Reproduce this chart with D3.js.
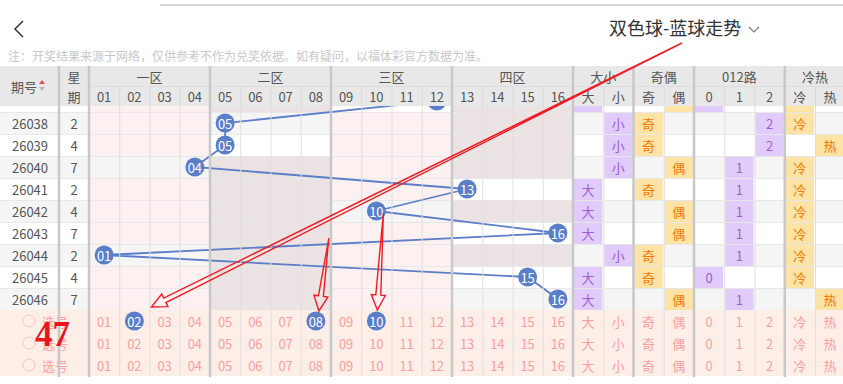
<!DOCTYPE html>
<html>
<head>
<meta charset="utf-8">
<script src="https://cdn.jsdelivr.net/npm/d3@7"></script>
<style>
  body { margin: 0; background: #fff; overflow: hidden; }
  text { font-family: "Noto Sans CJK SC", "Noto Sans", sans-serif; }
</style>
</head>
<body>
<div id="chart"></div>
<script>
// Draw data (first issue only peeks out under the header)
var issues = ["26037", "26038", "26039", "26040", "26041", "26042", "26043", "26044", "26045", "26046"];
var weekdays = [7, 2, 4, 7, 2, 4, 7, 2, 4, 7];
var blueBalls = [12, 5, 5, 4, 13, 10, 16, 1, 15, 16];
var hotCold = ["冷", "冷", "热", "冷", "冷", "冷", "冷", "冷", "冷", "热"];

// Column labels
var ballLabels = ["01", "02", "03", "04", "05", "06", "07", "08", "09", "10", "11", "12", "13", "14", "15", "16"];
var zoneLabels = ["一区", "二区", "三区", "四区"];
var groupLabels = ["大小", "奇偶", "012路", "冷热"];
var groupCells = [["大", "小"], ["奇", "偶"], ["0", "1", "2"], ["冷", "热"]];

// Picker rows at the bottom
var pickRows = ["选号", "选号", "选号"];
var picked = [["02", "08", "10"], [], []];

var title = "双色球-蓝球走势";
var note = "注：开奖结果来源于网络，仅供参考不作为兑奖依据。如有疑问，以福体彩官方数据为准。";
var markNumber = "47";

var width = 843, height = 384;

var svg = d3.select("#chart").append("svg")
    .attr("width", width)
    .attr("height", height);

// Column keys: 16 balls + the stat groups
var groupKeys = [];
groupCells.forEach(function(cells, g) {
  cells.forEach(function(c) { groupKeys.push("g" + g + "-" + c); });
});
var colKeys = ballLabels.concat(groupKeys);

var x = d3.scaleBand().domain(colKeys).range([89, 89 + colKeys.length * 30.25]);
var y = d3.scaleBand().domain(issues).range([90, 310]);
var yPick = d3.scaleBand().domain(d3.range(pickRows.length)).range([310, 376]);
var bw = x.bandwidth();

var zoneColors = ["#fdf0f0", "#ebe3e3"];
var purple = { bg: "#e0cbfa", fg: "#9c60d4" };
var orange = { bg: "#fde3a6", fg: "#f27a06" };
var groupStyle = [purple, orange, purple, orange];

function cx(label) { return x(label) + bw / 2; }
function cy(issue) { return y(issue) + y.bandwidth() / 2; }

// values shown in the stat columns for each draw
function groupValue(g, i) {
  var b = blueBalls[i];
  if (g === 0) return b >= 9 ? "大" : "小";
  if (g === 1) return b % 2 ? "奇" : "偶";
  if (g === 2) return String(b % 3);
  return hotCold[i];
}

// ---------- data rows (clipped under header) ----------
svg.append("clipPath").attr("id", "body-clip")
  .append("rect").attr("x", 0).attr("y", 106).attr("width", width).attr("height", 204);

var body = svg.append("g").attr("clip-path", "url(#body-clip)");

body.selectAll("rect.row")
  .data(issues)
  .enter().append("rect")
  .attr("class", "row")
  .attr("x", 0)
  .attr("y", d => y(d))
  .attr("width", width)
  .attr("height", y.bandwidth())
  .attr("fill", (d, i) => i % 2 ? "#f5f5f5" : "#fff");

// zones without a hit get shaded
issues.forEach(function(issue, i) {
  var hitZone = Math.floor((blueBalls[i] - 1) / 4);
  zoneLabels.forEach(function(z, k) {
    if (k === hitZone) return;
    body.append("rect")
      .attr("x", x(ballLabels[k * 4]))
      .attr("y", y(issue))
      .attr("width", bw * 4)
      .attr("height", y.bandwidth())
      .attr("fill", zoneColors[k % 2]);
  });
});

// stat cells (text only for rows fully below the header)
issues.forEach(function(issue, i) {
  groupCells.forEach(function(cells, g) {
    var v = groupValue(g, i);
    var key = "g" + g + "-" + v;
    body.append("rect")
      .attr("x", x(key) + 1)
      .attr("y", y(issue))
      .attr("width", bw - 2)
      .attr("height", y.bandwidth())
      .attr("fill", groupStyle[g].bg);
    if (i === 0) return;
    body.append("text")
      .attr("x", cx(key))
      .attr("y", cy(issue))
      .attr("text-anchor", "middle")
      .attr("dominant-baseline", "central")
      .attr("font-size", 13)
      .attr("fill", groupStyle[g].fg)
      .text(v);
  });
});

// grid lines
body.selectAll("line.h")
  .data(issues)
  .enter().append("line")
  .attr("x1", 0).attr("x2", width)
  .attr("y1", d => y(d) + 0.5).attr("y2", d => y(d) + 0.5)
  .attr("stroke", "#e8e8e8");

// issue / weekday text
var shown = issues.slice(1);
body.selectAll("text.issue")
  .data(shown)
  .enter().append("text")
  .attr("x", 30)
  .attr("y", d => cy(d))
  .attr("text-anchor", "middle")
  .attr("dominant-baseline", "central")
  .attr("font-size", 13)
  .attr("fill", "#555")
  .text(d => d);

body.selectAll("text.week")
  .data(weekdays.slice(1))
  .enter().append("text")
  .attr("x", 74)
  .attr("y", (d, i) => cy(shown[i]))
  .attr("text-anchor", "middle")
  .attr("dominant-baseline", "central")
  .attr("font-size", 13)
  .attr("fill", "#555")
  .text(d => d);

// ---------- pick rows ----------
var pick = svg.append("g");
pick.append("rect")
  .attr("x", 0).attr("y", yPick(0))
  .attr("width", width).attr("height", yPick.bandwidth() * pickRows.length)
  .attr("fill", "#fdeee8");

pickRows.forEach(function(label, r) {
  var ym = yPick(r) + yPick.bandwidth() / 2;
  pick.append("circle")
    .attr("cx", 29).attr("cy", ym).attr("r", 6)
    .attr("fill", "none").attr("stroke", "#f8c6bd");
  pick.append("text")
    .attr("x", 55).attr("y", ym)
    .attr("text-anchor", "middle").attr("dominant-baseline", "central")
    .attr("font-size", 13).attr("fill", "#fa9f9f")
    .text(label);
  colKeys.forEach(function(k) {
    var lbl = k.indexOf("-") > 0 ? k.split("-")[1] : k;
    var on = picked[r].indexOf(k) >= 0;
    if (on) {
      pick.append("circle")
        .attr("cx", cx(k)).attr("cy", ym).attr("r", 9.5)
        .attr("fill", "#5b7ec8");
    }
    pick.append("text")
      .attr("x", cx(k)).attr("y", ym)
      .attr("text-anchor", "middle").attr("dominant-baseline", "central")
      .attr("font-size", 13)
      .attr("fill", on ? "#fff" : "#fa9f9f")
      .text(lbl);
  });
});

// thin vertical grid lines through rows + picker
svg.append("g").selectAll("line")
  .data(colKeys.slice(1))
  .enter().append("line")
  .attr("x1", d => x(d) + 0.5).attr("x2", d => x(d) + 0.5)
  .attr("y1", 106).attr("y2", 376)
  .attr("stroke", "#e2dede");

// blue ball trend line + balls (drawn after grid)
var trend = body.append("g");
var pts = blueBalls.map((b, i) => [cx(ballLabels[b - 1]), cy(issues[i])]);
trend.append("path")
  .attr("d", d3.line()(pts))
  .attr("fill", "none")
  .attr("stroke", "#5b7ec8")
  .attr("stroke-width", 1.8);

trend.selectAll("circle")
  .data(blueBalls)
  .enter().append("circle")
  .attr("cx", d => cx(ballLabels[d - 1]))
  .attr("cy", (d, i) => cy(issues[i]))
  .attr("r", 9.5)
  .attr("fill", "#5b7ec8");

trend.selectAll("text")
  .data(blueBalls.slice(1))
  .enter().append("text")
  .attr("x", d => cx(ballLabels[d - 1]))
  .attr("y", (d, i) => cy(shown[i]))
  .attr("text-anchor", "middle")
  .attr("dominant-baseline", "central")
  .attr("font-size", 13)
  .attr("fill", "#fff")
  .text(d => ballLabels[d - 1]);

// ---------- header ----------
var head = svg.append("g");
head.append("rect")
  .attr("x", 0).attr("y", 66).attr("width", width).attr("height", 40)
  .attr("fill", "#e8e8e8");
head.append("line")
  .attr("x1", 89).attr("x2", width).attr("y1", 86.5).attr("y2", 86.5)
  .attr("stroke", "#dcdcdc");

head.selectAll("line.sub")
  .data(colKeys.slice(1))
  .enter().append("line")
  .attr("x1", d => x(d) + 0.5).attr("x2", d => x(d) + 0.5)
  .attr("y1", 87).attr("y2", 106)
  .attr("stroke", "#dadada");

head.selectAll("text.zone")
  .data(zoneLabels)
  .enter().append("text")
  .attr("x", (d, i) => x(ballLabels[i * 4]) + bw * 2)
  .attr("y", 76)
  .attr("text-anchor", "middle").attr("dominant-baseline", "central")
  .attr("font-size", 13).attr("fill", "#555")
  .text(d => d);

head.selectAll("text.group")
  .data(groupLabels)
  .enter().append("text")
  .attr("x", (d, g) => x("g" + g + "-" + groupCells[g][0]) + bw * groupCells[g].length / 2)
  .attr("y", 76)
  .attr("text-anchor", "middle").attr("dominant-baseline", "central")
  .attr("font-size", 13).attr("fill", "#555")
  .text(d => d);

head.selectAll("text.col")
  .data(colKeys)
  .enter().append("text")
  .attr("x", d => cx(d))
  .attr("y", 96)
  .attr("text-anchor", "middle").attr("dominant-baseline", "central")
  .attr("font-size", 13).attr("fill", "#555")
  .text(d => d.indexOf("-") > 0 ? d.split("-")[1] : d);

head.append("text")
  .attr("x", 24).attr("y", 86)
  .attr("text-anchor", "middle").attr("dominant-baseline", "central")
  .attr("font-size", 13).attr("fill", "#555")
  .text("期号");
head.append("path").attr("d", "M39,84 L42,80 L45,84 Z").attr("fill", "#e84a4a");
head.append("path").attr("d", "M39,87 L42,91 L45,87 Z").attr("fill", "#b5b5b5");
head.append("text")
  .attr("x", 74).attr("y", 76)
  .attr("text-anchor", "middle").attr("dominant-baseline", "central")
  .attr("font-size", 13).attr("fill", "#555")
  .text("星");
head.append("text")
  .attr("x", 74).attr("y", 96)
  .attr("text-anchor", "middle").attr("dominant-baseline", "central")
  .attr("font-size", 13).attr("fill", "#555")
  .text("期");

// thick separators
var seps = [59, 89, x("05"), x("09"), x("13")].concat(groupCells.map((c, g) => x("g" + g + "-" + c[0])));
svg.append("g").selectAll("line")
  .data(seps)
  .enter().append("line")
  .attr("x1", d => d).attr("x2", d => d)
  .attr("y1", 66).attr("y2", 377)
  .attr("stroke", "#c8c8c8")
  .attr("stroke-width", 2.5);

// ---------- top bar ----------
svg.append("line")
  .attr("x1", 160).attr("x2", width).attr("y1", 5).attr("y2", 5)
  .attr("stroke", "#d5d5d5").attr("stroke-width", 2);
svg.append("path")
  .attr("d", "M23,21 L15,29 L23,37")
  .attr("fill", "none").attr("stroke", "#333").attr("stroke-width", 1.5);
svg.append("text")
  .attr("x", 609).attr("y", 35)
  .attr("font-size", 18).attr("fill", "#333")
  .text(title);
svg.append("path")
  .attr("d", "M749,27 L754,32 L759,27")
  .attr("fill", "none").attr("stroke", "#777").attr("stroke-width", 1.2);
svg.append("text")
  .attr("x", 8).attr("y", 61)
  .attr("font-size", 12).attr("fill", "#c8c8c8")
  .text(note);

// ---------- hand-drawn red annotations ----------
function arrowPoints(t, p) {
  var dx = p[0] - t[0], dy = p[1] - t[1], len = Math.hypot(dx, dy);
  var ux = dx / len, uy = dy / len, nx = -uy, ny = ux;
  var L = 15, W = 7, w = 2.5;
  var bx = p[0] - ux * L, by = p[1] - uy * L;
  return [t, [bx + nx * w, by + ny * w], [bx + nx * W, by + ny * W], p,
          [bx - nx * W, by - ny * W], [bx - nx * w, by - ny * w]];
}
var pickTop = yPick(0);
var arrows = [
  [[682, 43], [cx("02") + 17, pickTop - 3]],
  [[cx("08") + 13, cy("26043") + 5], [cx("08") + 3, pickTop + 1]],
  [[cx("10") + 7, cy("26042") + 2], [cx("10") + 1, pickTop]]
];
svg.append("g").selectAll("path")
  .data(arrows)
  .enter().append("path")
  .attr("d", d => d3.line()(arrowPoints(d[0], d[1])) + "Z")
  .attr("fill", "none")
  .attr("stroke", "#ee1c24")
  .attr("stroke-width", 1.4)
  .attr("stroke-linejoin", "miter");

svg.append("text")
  .attr("x", 35).attr("y", 346)
  .style("font-family", "'Liberation Serif', 'DejaVu Serif', serif")
  .style("font-weight", "bold")
  .style("font-size", "35px")
  .attr("fill", "#e8161c")
  .text(markNumber);
</script>
</body>
</html>
